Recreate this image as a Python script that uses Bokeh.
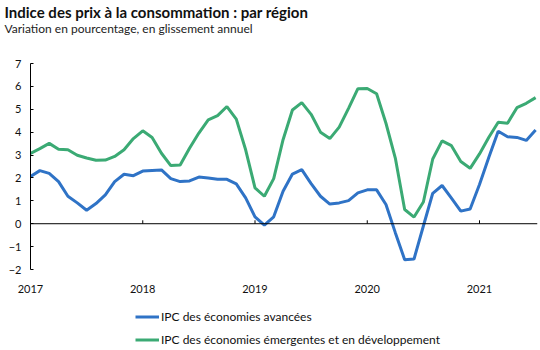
from bokeh.plotting import figure
from bokeh.models import FixedTicker, Title, Legend, LegendItem, Span
from bokeh.layouts import column
from bokeh.embed import file_html
from bokeh.resources import INLINE

# Monthly data, Jan 2017 .. Jul 2021 (month index 0..54)
advanced = [2.06, 2.32, 2.20, 1.84, 1.20, 0.91, 0.59, 0.88, 1.26, 1.84, 2.16, 2.10,
            2.30, 2.33, 2.35, 1.97, 1.84, 1.87, 2.04, 2.00, 1.94, 1.94, 1.74, 1.13,
            0.30, -0.06, 0.30, 1.42, 2.17, 2.36, 1.75, 1.20, 0.86, 0.91, 1.01, 1.35,
            1.48, 1.48, 0.84, -0.39, -1.57, -1.54, -0.10, 1.33, 1.67, 1.12, 0.55, 0.64,
            1.71, 2.90, 4.04, 3.80, 3.77, 3.64, 4.09]
emerging = [3.07, 3.28, 3.51, 3.25, 3.23, 2.99, 2.87, 2.77, 2.78, 2.94, 3.23, 3.72,
            4.06, 3.77, 3.08, 2.54, 2.57, 3.30, 3.96, 4.54, 4.72, 5.12, 4.57, 3.23,
            1.57, 1.20, 1.97, 3.67, 4.97, 5.29, 4.78, 4.00, 3.72, 4.22, 5.04, 5.90,
            5.91, 5.68, 4.39, 2.87, 0.62, 0.29, 0.95, 2.83, 3.62, 3.41, 2.72, 2.42,
            3.05, 3.78, 4.43, 4.39, 5.07, 5.26, 5.51]
months = list(range(len(advanced)))
year_ticks = [0, 12, 24, 36, 48]
year_labels = ["2017", "2018", "2019", "2020", "2021"]
y_ticks = [-2, -1, 0, 1, 2, 3, 4, 5, 6, 7]

series_names = ["IPC des économies avancées",
                "IPC des économies émergentes et en développement"]
colors = ["#2F73C6", "#3BAA74"]
FONT = "Lato"

p = figure(width=540, height=295, output_backend="svg", toolbar_location=None,
           x_range=(0, 54.2), y_range=(y_ticks[0], y_ticks[-1]),
           min_border_left=30, min_border_right=3, min_border_top=63,
           min_border_bottom=25)
p.outline_line_color = None
p.xgrid.visible = False
p.ygrid.visible = False
p.background_fill_color = "white"
p.border_fill_color = "white"

# titles (closest to the frame first: spacer, subtitle; main title outermost)
p.title = Title(text="Indice des prix à la consommation : par région",
                text_font=FONT, text_font_size="15px", text_font_style="bold",
                text_color="#111111", offset=-26, standoff=0)
p.add_layout(Title(text=" ", text_font=FONT, text_font_size="10px", standoff=12), "above")
p.add_layout(Title(text="Variation en pourcentage, en glissement annuel",
                   text_font=FONT, text_font_size="12px", text_font_style="normal",
                   text_color="#222222", offset=-26, standoff=0,
                   vertical_align="top"), "above")

# y axis
p.yaxis.ticker = FixedTicker(ticks=y_ticks)
p.yaxis.major_tick_in = 3
p.yaxis.major_tick_out = 0
p.yaxis.minor_tick_line_color = None
p.yaxis.axis_line_color = "black"
p.yaxis.major_tick_line_color = "black"
p.yaxis.major_label_text_font = FONT
p.yaxis.major_label_text_font_size = "11px"
p.yaxis.major_label_text_color = "#111111"
p.yaxis.major_label_standoff = 9

# x axis: year labels only
p.xaxis.ticker = FixedTicker(ticks=year_ticks)
p.xaxis.major_label_overrides = {t: l for t, l in zip(year_ticks, year_labels)}
p.xaxis.axis_line_color = None
p.xaxis.major_tick_line_color = None
p.xaxis.minor_tick_line_color = None
p.xaxis.major_label_text_font = FONT
p.xaxis.major_label_text_font_size = "11px"
p.xaxis.major_label_text_color = "#111111"
p.xaxis.major_label_standoff = 9

# zero line with small year ticks
p.add_layout(Span(location=0, dimension="width", line_color="black", line_width=1))
p.segment(x0=year_ticks[1:], y0=[0] * 4, x1=year_ticks[1:], y1=[0.15] * 4,
          line_color="black", line_width=1)

p.line(months, advanced, line_color=colors[0], line_width=3)
p.line(months, emerging, line_color=colors[1], line_width=3)

# legend strip under the chart (proxy lines lie outside its visible range)
leg = figure(width=540, height=55, output_backend="svg", toolbar_location=None,
             min_border=0, x_range=(0, 1), y_range=(0, 1))
leg.axis.visible = False
leg.grid.visible = False
leg.outline_line_color = None
leg.border_fill_color = "white"
l1 = leg.line(x=[-2, -1], y=[-2, -1], line_color=colors[0], line_width=3)
l2 = leg.line(x=[-2, -1], y=[-2, -1], line_color=colors[1], line_width=3)
legend = Legend(items=[LegendItem(label=series_names[0], renderers=[l1]),
                       LegendItem(label=series_names[1], renderers=[l2])],
                location=(105, 3), orientation="vertical",
                glyph_width=24, glyph_height=15, label_height=15, label_standoff=2,
                spacing=8, padding=0, margin=0, border_line_color=None,
                background_fill_alpha=0, label_text_font=FONT,
                label_text_font_size="12px", label_text_color="#111111")
leg.add_layout(legend, "center")

layout = column(p, leg, spacing=0)
open("out.html", "w").write(file_html(layout, INLINE))
